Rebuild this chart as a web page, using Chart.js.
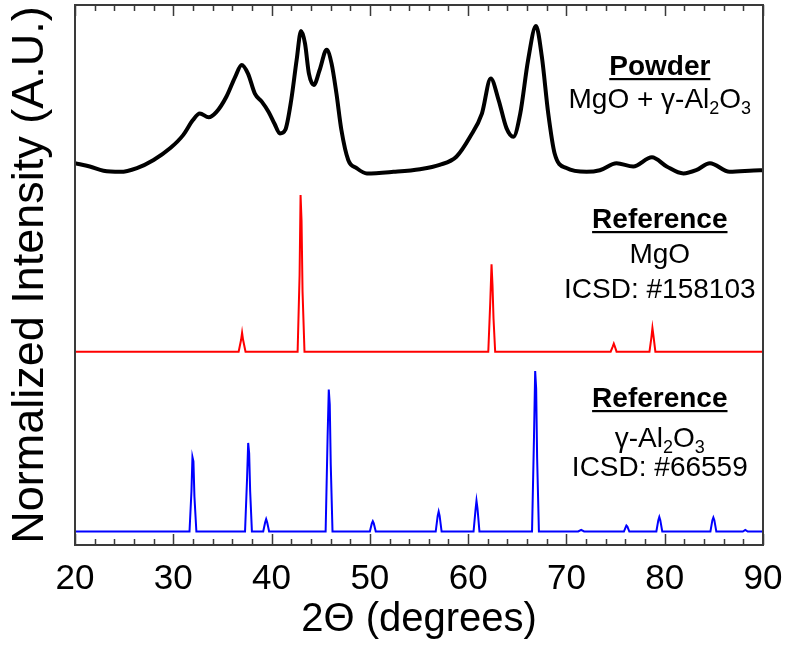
<!DOCTYPE html>
<html>
<head>
<meta charset="utf-8">
<script src="https://cdn.jsdelivr.net/npm/chart.js@4.4.1/dist/chart.umd.min.js"></script>
<style>
  html, body { margin: 0; padding: 0; background: #fff; }
  canvas { display: block; }
</style>
</head>
<body>
<canvas id="c" width="790" height="646"></canvas>
<script>
// ---- Data ----
const xTickLabels = [20, 30, 40, 50, 60, 70, 80, 90];

// Powder MgO + γ-Al2O3 (black, offset trace)
const powderX = [20.0, 21.5, 22.9, 24.6, 26.3, 28.0, 29.7, 31.0, 32.0, 32.7, 33.6, 34.4, 35.4, 36.3, 36.96, 37.6, 38.3, 39.0, 39.7, 40.3, 40.85, 41.4, 42.0, 42.55, 43.0, 43.4, 43.8, 44.3, 44.9, 45.6, 46.1, 46.6, 47.1, 47.8, 48.65, 49.7, 52.4, 55.1, 57.1, 58.8, 60.2, 61.4, 62.3, 63.1, 63.9, 64.6, 65.3, 66.1, 66.9, 67.5, 68.15, 68.8, 70.0, 72.05, 73.4, 75.1, 76.8, 78.7, 80.2, 81.9, 83.2, 84.6, 86.6, 89.7, 90.0];
const powderY = [70.7, 70.1, 69.3, 69.1, 69.8, 71.3, 73.5, 75.9, 78.7, 79.9, 79.2, 80.2, 83.0, 86.7, 88.9, 87.3, 83.6, 82.1, 80.2, 78.0, 76.2, 76.9, 82.4, 89.8, 95.2, 92.9, 87.3, 85.2, 88.0, 91.7, 89.2, 83.6, 76.9, 71.3, 69.8, 68.8, 69.1, 69.6, 70.4, 71.9, 75.6, 79.9, 86.4, 82.4, 77.2, 75.6, 79.9, 89.8, 96.1, 90.4, 79.9, 72.5, 69.8, 69.1, 69.4, 70.7, 70.1, 71.8, 70.1, 68.8, 69.4, 70.7, 69.1, 69.4, 69.4];

// Reference MgO ICSD #158103 (red)
const mgoX = [20.0, 36.65, 36.9, 37.0, 37.1, 37.35, 42.65, 42.85, 42.95, 43.05, 43.15, 43.35, 62.05, 62.25, 62.38, 62.48, 62.58, 62.75, 74.5, 74.72, 74.82, 74.92, 75.1, 78.45, 78.65, 78.75, 78.85, 79.05, 90.0];
const mgoY = [35.8, 35.8, 38.0, 39.3, 38.0, 35.8, 35.8, 50.0, 64.8, 60.0, 47.0, 35.8, 35.8, 45.0, 52.0, 48.0, 42.0, 35.8, 35.8, 36.8, 37.3, 36.8, 35.8, 35.8, 38.5, 40.2, 38.8, 35.8, 35.8];

// Reference γ-Al2O3 ICSD #66559 (blue)
const aluminaX = [20.0, 31.65, 31.85, 31.95, 32.05, 32.15, 32.35, 37.3, 37.5, 37.62, 37.72, 37.82, 38.0, 39.15, 39.35, 39.45, 39.55, 39.75, 45.5, 45.7, 45.82, 45.92, 46.02, 46.2, 50.0, 50.2, 50.3, 50.4, 50.6, 56.7, 56.9, 57.0, 57.1, 57.3, 60.55, 60.75, 60.85, 60.95, 61.15, 66.5, 66.7, 66.82, 66.92, 67.02, 67.2, 71.2, 71.5, 71.8, 75.85, 76.05, 76.1, 76.2, 76.4, 79.15, 79.35, 79.45, 79.55, 79.75, 84.65, 84.85, 84.95, 85.05, 85.25, 87.95, 88.2, 88.45, 90.0];
const aluminaY = [2.5, 2.5, 10.0, 16.3, 15.5, 9.0, 2.5, 2.5, 12.0, 18.9, 17.0, 10.0, 2.5, 2.5, 4.2, 4.8, 4.2, 2.5, 2.5, 20.0, 28.8, 26.0, 15.0, 2.5, 2.5, 4.0, 4.4, 4.0, 2.5, 2.5, 5.4, 6.2, 5.4, 2.5, 2.5, 6.5, 8.2, 6.8, 2.5, 2.5, 20.0, 32.2, 29.0, 16.0, 2.5, 2.5, 2.8, 2.5, 2.5, 3.4, 3.6, 3.4, 2.5, 2.5, 4.6, 5.2, 4.6, 2.5, 2.5, 4.6, 5.1, 4.6, 2.5, 2.5, 2.8, 2.5, 2.5];

const toPoints = (xs, ys) => xs.map((x, i) => ({ x: x, y: ys[i] }));

const FONT = '"Liberation Sans", Arial, Helvetica, sans-serif';
const FRAME = '#3a3a3a';

const framePlugin = {
  id: 'frameAndLabels',
  afterDraw(chart) {
    const { ctx, chartArea: a, scales } = chart;
    const xs = scales.x;
    ctx.save();
    ctx.strokeStyle = FRAME;
    ctx.lineWidth = 2;
    ctx.strokeRect(a.left, a.top, a.right - a.left, a.bottom - a.top);
    ctx.lineWidth = 1.5;
    for (let v = xs.min; v <= xs.max + 1e-9; v += 2) {
      const px = Math.round(xs.getPixelForValue(v)) + 0.5;
      const major = Math.abs(v % 10) < 1e-9;
      const len = major ? 11 : 6;
      ctx.beginPath();
      ctx.moveTo(px, a.bottom); ctx.lineTo(px, a.bottom - len);
      ctx.moveTo(px, a.top); ctx.lineTo(px, a.top + len);
      ctx.stroke();
    }
    const cx = xs.getPixelForValue(79.5);
    ctx.fillStyle = '#000';
    ctx.textBaseline = 'alphabetic';

    function rich(parts, centerX, baseY, size) {
      const subSize = Math.round(size * 0.65);
      let total = 0;
      parts.forEach(p => {
        ctx.font = (p.sub ? subSize : size) + 'px ' + FONT;
        p.w = ctx.measureText(p.t).width;
        total += p.w;
      });
      let x = centerX - total / 2;
      ctx.textAlign = 'left';
      parts.forEach(p => {
        ctx.font = (p.sub ? subSize : size) + 'px ' + FONT;
        ctx.fillText(p.t, x, baseY + (p.sub ? size * 0.22 : 0));
        x += p.w;
      });
    }
    function heading(text, centerX, baseY, size) {
      ctx.font = 'bold ' + size + 'px ' + FONT;
      ctx.textAlign = 'center';
      ctx.fillText(text, centerX, baseY);
      const w = ctx.measureText(text).width;
      ctx.fillRect(centerX - w / 2, baseY + 3, w, 2.2);
    }
    function plain(text, centerX, baseY, size) {
      ctx.font = size + 'px ' + FONT;
      ctx.textAlign = 'center';
      ctx.fillText(text, centerX, baseY);
    }
    const T = a.top - 5;
    heading('Powder', cx, T + 75, 28);
    rich([{ t: 'MgO + γ-Al' }, { t: '2', sub: true }, { t: 'O' }, { t: '3', sub: true }], cx, T + 108, 28);

    heading('Reference', cx, T + 228, 28);
    plain('MgO', cx, T + 263, 28);
    plain('ICSD: #158103', cx, T + 298, 28);

    heading('Reference', cx, T + 407, 28);
    rich([{ t: 'γ-Al' }, { t: '2', sub: true }, { t: 'O' }, { t: '3', sub: true }], cx, T + 447, 28);
    plain('ICSD: #66559', cx, T + 476, 28);
    ctx.restore();
  }
};

new Chart(document.getElementById('c'), {
  type: 'line',
  data: {
    datasets: [
      { label: 'Powder', data: toPoints(powderX, powderY), borderColor: '#000', borderWidth: 4, pointRadius: 0, cubicInterpolationMode: 'monotone', fill: false },
      { label: 'MgO', data: toPoints(mgoX, mgoY), borderColor: '#ff0000', borderWidth: 2, pointRadius: 0, tension: 0, fill: false },
      { label: 'γ-Al2O3', data: toPoints(aluminaX, aluminaY), borderColor: '#0000ff', borderWidth: 2, pointRadius: 0, tension: 0, fill: false }
    ]
  },
  options: {
    responsive: false,
    animation: false,
    devicePixelRatio: 1,
    layout: { padding: { top: 5, right: 27, left: 0, bottom: 0 } },
    plugins: { legend: { display: false }, tooltip: { enabled: false } },
    scales: {
      x: {
        type: 'linear',
        min: 20, max: 90,
        grid: { display: false, drawTicks: false },
        border: { display: false },
        afterBuildTicks: (s) => { s.ticks = xTickLabels.map(v => ({ value: v })); },
        ticks: { color: '#000', font: { family: FONT, size: 35 }, padding: 13, maxRotation: 0, autoSkip: false },
        title: { display: true, text: '2Θ (degrees)', color: '#000', font: { family: FONT, size: 40 }, padding: { top: 0, bottom: 2 } },
        afterFit: (s) => { s.height = 101; s.paddingLeft = 0; s.paddingRight = 0; }
      },
      y: {
        type: 'linear',
        min: 0, max: 100,
        grid: { display: false, drawTicks: false },
        border: { display: false },
        ticks: { display: false },
        title: { display: true, text: 'Normalized Intensity (A.U.)', color: '#000', font: { family: FONT, size: 45 }, padding: { top: 4, bottom: 0 } },
        afterFit: (s) => { s.width = 75; s.paddingTop = 0; s.paddingBottom = 0; }
      }
    }
  },
  plugins: [framePlugin]
});
</script>
</body>
</html>
